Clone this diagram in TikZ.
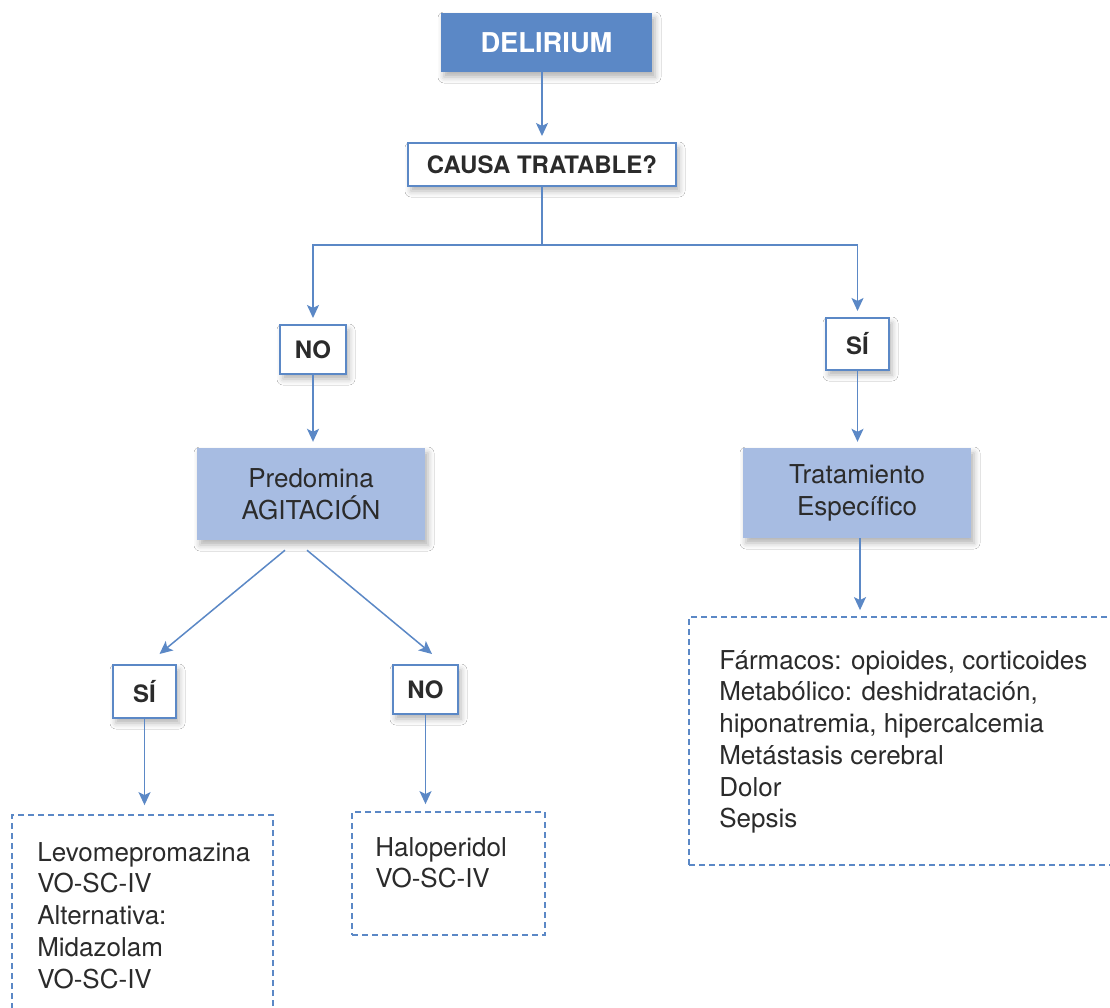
\documentclass[tikz,border=0pt]{standalone}
\usepackage{fontspec}
\setmainfont{TeX Gyre Heros}
\usetikzlibrary{arrows.meta,shadows.blur,calc}
\definecolor{bluedark}{HTML}{5B88C6}
\definecolor{bluelight}{HTML}{A7BCE2}
\definecolor{txt}{HTML}{2B2B2B}
\begin{document}
\begin{tikzpicture}[x=1pt,y=-1pt,
  shad/.style={blur shadow={shadow xshift=3pt,shadow yshift=-5pt,shadow blur radius=6pt,shadow opacity=30}},
  topbox/.style={rectangle, fill=bluedark, draw=none, text=white, inner sep=0pt, font=\fontsize{27.3}{31}\selectfont\bfseries, shad},
  qbox/.style={rectangle, fill=white, draw=bluedark, line width=2pt, inner sep=0pt, text=txt, font=\fontsize{24}{28}\selectfont\bfseries, shad},
  actbox/.style={rectangle, fill=bluelight, draw=none, inner sep=0pt, text=txt, font=\fontsize{26}{31.5}\selectfont, align=center, shad},
  dbox/.style={rectangle, draw=bluedark, line width=1.8pt, dash pattern=on 6pt off 4pt, inner sep=0pt},
  ttext/.style={font=\fontsize{26}{31.7}\selectfont, text=txt, align=left, inner sep=0pt, anchor=north west},
  arr/.style={draw=bluedark, line width=1.5pt, shorten >=6pt, -{Stealth[length=13pt,width=12pt,inset=3pt]}},
  conn/.style={draw=bluedark, line width=1.5pt}
]
\useasboundingbox (0,0) rectangle (1110,1007);
\fill[white] (0,0) rectangle (1110,1007);

% boxes
\node[topbox, minimum width=211pt, minimum height=59pt] (d) at (546.5,42.5) {DELIRIUM};
\node[qbox, minimum width=268pt, minimum height=43pt] (c) at (542,164.5) {CAUSA TRATABLE?};
\node[qbox, minimum width=66pt, minimum height=49pt] (no1) at (313,349.5) {NO};
\node[qbox, minimum width=63pt, minimum height=52pt] (si1) at (857.5,344) {SÍ};
\node[actbox, minimum width=228pt, minimum height=92pt] (pa) at (311,494) {Predomina\\AGITACIÓN};
\node[actbox, minimum width=228pt, minimum height=90pt] (te) at (857,493) {Tratamiento\\Específico};
\node[qbox, minimum width=63pt, minimum height=53pt] (si2) at (144.5,691.5) {SÍ};
\node[qbox, minimum width=65pt, minimum height=49pt] (no2) at (425.5,689.5) {NO};

\node[dbox, minimum width=261pt, minimum height=200pt] (lb) at (142.5,915) {};
\node[dbox, minimum width=193pt, minimum height=123pt] (mb) at (448.5,873.5) {};
\node[dbox, minimum width=430pt, minimum height=248pt] (rb) at (904,741) {};

\node[ttext] (lt) at ($(lb.north west)+(26,28)$) {Levomepromazina\\VO-SC-IV\\Alternativa:\\Midazolam\\VO-SC-IV};
\node[ttext] (mt) at ($(mb.north west)+(24,26)$) {Haloperidol\\VO-SC-IV};
\node[ttext] (rt) at ($(rb.north west)+(31,34)$) {Fármacos: opioides, corticoides\\Metabólico: deshidratación,\\hiponatremia, hipercalcemia\\Metástasis cerebral\\Dolor\\Sepsis};

% connectors
\coordinate (j) at (542,245);
\draw[arr] (d.south -| c.north) -- (c.north);
\draw[conn] (c.south) -- (j);
\draw[arr] (j) -| (no1.north);
\draw[arr] (j) -| (si1.north);
\draw[arr] (no1.south) -- (no1.south |- pa.north);
\draw[arr] (si1.south) -- (si1.south |- te.north);
\draw[arr] ($(te.south)+(3,0)$) -- ($(te.south |- rb.north)+(3,0)$);
\draw[arr, shorten >=0pt] ($(pa.south)+(-26,10)$) -- ($(si2.north)+(15,-10)$);
\draw[arr, shorten >=0pt] ($(pa.south)+(-4,10)$) -- ($(no2.north)+(6.5,-10)$);
\draw[arr, shorten >=9pt] (si2.south) -- (si2.south |- lb.north);
\draw[arr, shorten >=7pt] (no2.south) -- (no2.south |- mb.north);
\end{tikzpicture}
\end{document}
